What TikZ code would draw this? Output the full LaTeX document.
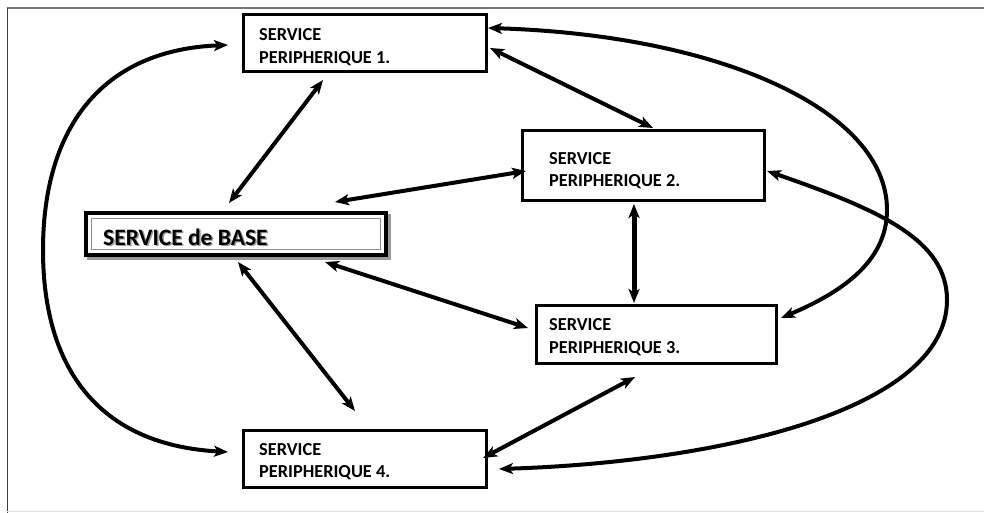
\documentclass[tikz,border=0pt]{standalone}
\usepackage{fontspec}
\setmainfont{Carlito}
\usetikzlibrary{arrows.meta,calc}
\begin{document}
\begin{tikzpicture}[x=1pt,y=-1pt,
  box/.style={draw,line width=3.5pt,outer sep=0pt,inner sep=0pt},
  boxtext/.style={font=\bfseries\fontsize{18.3}{22.5}\selectfont,align=left,anchor=base west,inner sep=0pt},
  tip/.tip={Stealth[length=14pt,width=11pt,inset=3.5pt]},
  link/.style={line width=4pt,{tip}-{tip}},
]
\useasboundingbox (0,0) rectangle (984,513);

% page frame
\draw[line width=1.5pt,black!55] (7,8) -- (984,8);
\draw[line width=1.5pt,black!75] (7.5,8) -- (7.5,513);
\draw[line width=1pt,black!12] (7,511.5) -- (984,511.5);

% peripheral services
\node[box,minimum width=243pt,minimum height=57pt] (p1) at (365,43) {};
\node[box,minimum width=242pt,minimum height=70pt] (p2) at (643.5,165.5) {};
\node[box,minimum width=240pt,minimum height=58pt] (p3) at (656.5,334.5) {};
\node[box,minimum width=243pt,minimum height=57pt] (p4) at (365,459) {};

% labels are placed by the baseline of their second line
\node[boxtext] (t1) at (259,63.5) {SERVICE\\PERIPHERIQUE 1.};
\node[boxtext] (t2) at (549,186.5) {SERVICE\\PERIPHERIQUE 2.};
\node[boxtext] (t3) at (549,353) {SERVICE\\PERIPHERIQUE 3.};
\node[boxtext] (t4) at (259,477.5) {SERVICE\\PERIPHERIQUE 4.};

% base service: shadowed double frame
\node[draw=black!40,line width=4pt,outer sep=0pt,minimum width=300pt,minimum height=42pt] (bshadow) at (239,237) {};
\node[draw,line width=4pt,fill=white,outer sep=0pt,minimum width=300pt,minimum height=42pt] (base) at (236,234) {};
\draw[black!45,line width=1pt] ($(base.north west)+(5.5,5.5)$) rectangle ($(base.south east)+(-5.5,-5.5)$);
\node[font=\bfseries\fontsize{23.5}{26}\selectfont,text=black!40,anchor=base west,inner sep=0pt] (tbs) at (104.5,246.5) {SERVICE de BASE};
\node[font=\bfseries\fontsize{23.5}{26}\selectfont,anchor=base west,inner sep=0pt] (tb) at (103,245) {SERVICE de BASE};

% straight links
\draw[link] ($(p1.south)+(-42,8.5)$) -- ($(base.north)+(-7,-10)$);
\draw[link] ($(base.north)+(99,-11)$) -- ($(p2.west)+(3.5,5.5)$);
\draw[link] ($(p1.east)+(3.5,5)$) -- ($(p2.north)+(9.5,-2.5)$);
\draw[link,line width=5pt] ($(p2.south)+(-9.5,3.5)$) -- ($(p3.north)+(-22.5,-2.5)$);
\draw[link] ($(base.south)+(89,7)$) -- ($(p3.west)+(-8.5,-6.5)$);
\draw[link] ($(base.south)+(2,7)$) -- ($(p4.north)+(-10,-19.5)$);
\draw[link] ($(p3.south)+(-21.5,13.5)$) -- ($(p4.east)+(-3.5,-1)$);

% curved links
\draw[link] ($(p1.east)+(1.5,-15)$) .. controls (720,35) and (887,110) .. (887,210)
  .. controls (887,265) and (835,295) .. ($(p3.east)+(4.5,-16.5)$);
\draw[link] ($(p2.east)+(2.5,5.5)$) .. controls (880,210) and (947,240) .. (947,300)
  .. controls (947,410) and (720,462) .. ($(p4.east)+(12.5,10)$);
\draw[link] ($(p1.west)+(-15.5,2)$) .. controls (100,50) and (43,130) .. (43,250)
  .. controls (43,370) and (100,445) .. ($(p4.west)+(-15.5,-7)$);
\end{tikzpicture}
\end{document}
